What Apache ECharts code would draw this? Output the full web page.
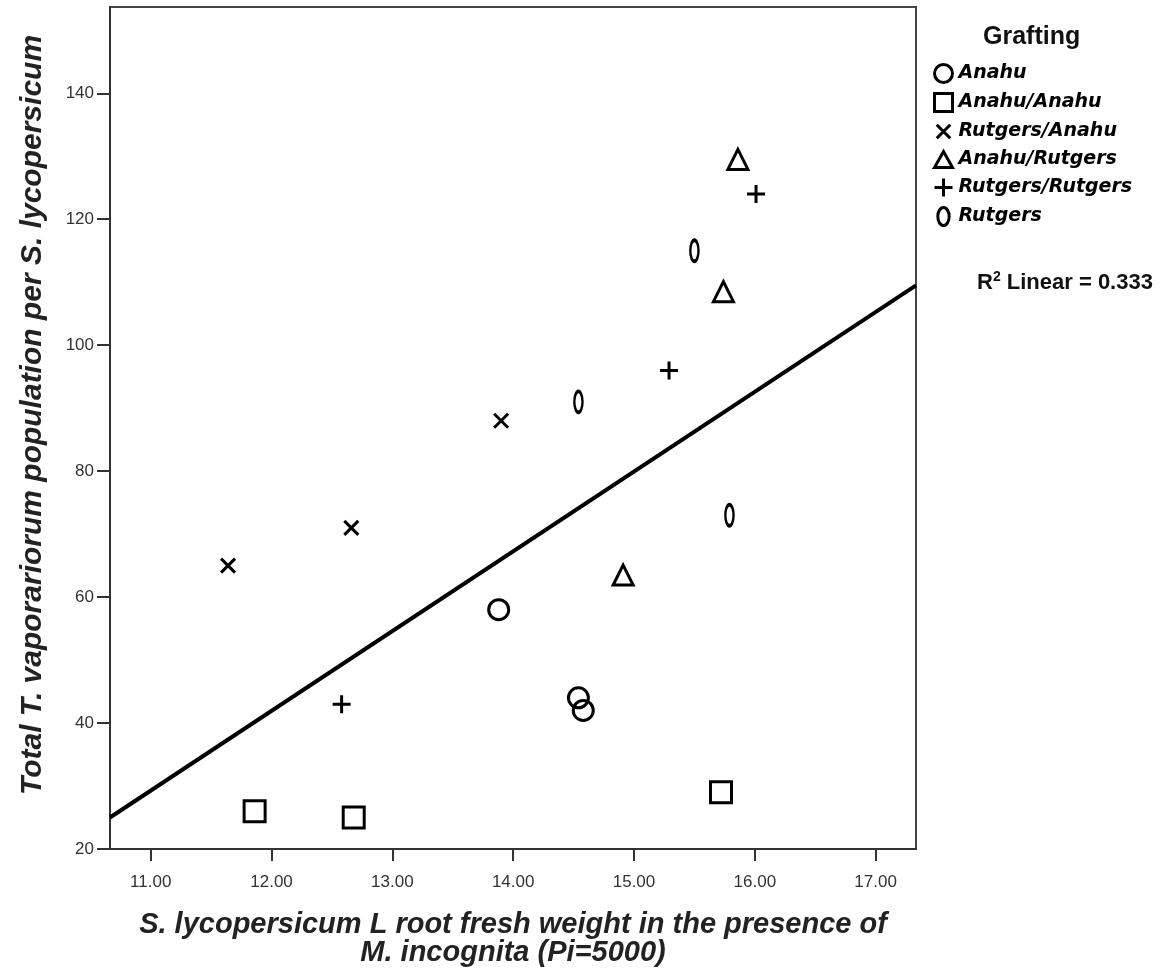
<!DOCTYPE html>
<html>
<head>
<meta charset="utf-8">
<script src="https://cdn.jsdelivr.net/npm/echarts@6/dist/echarts.min.js"></script>
<style>
html,body{margin:0;padding:0;background:#fff;}
#chart{width:1172px;height:973px;}
</style>
</head>
<body>
<div id="chart"></div>
<script>
// ---- data ----
const groupNames = ['Anahu', 'Anahu/Anahu', 'Rutgers/Anahu', 'Anahu/Rutgers', 'Rutgers/Rutgers', 'Rutgers'];
const anahu          = [[13.88, 58], [14.54, 44], [14.58, 42]];
const anahuAnahu     = [[11.86, 26], [12.68, 25], [15.72, 29]];
const rutgersAnahu   = [[11.64, 65], [12.66, 71], [13.90, 88]];
const anahuRutgers   = [[15.86, 129.5], [15.74, 108.5], [14.91, 63.5]];
const rutgersRutgers = [[16.01, 124], [15.29, 96], [12.58, 43]];
const rutgers        = [[15.50, 115], [14.54, 91], [15.79, 73]];
const fitLine        = [[10.663, 25.0], [17.334, 109.5]];
const xTicks = [11, 12, 13, 14, 15, 16, 17];
const yTicks = [20, 40, 60, 80, 100, 120, 140];
const r2Text = '0.333';

// ---- styling ----
const groupData = [anahu, anahuAnahu, rutgersAnahu, anahuRutgers, rutgersRutgers, rutgers];
const ellipsePath = 'path://M6,0A6,9.5,0,1,1,6,19A6,9.5,0,1,1,6,0Z';
const symbols = [
  'circle',
  'rect',
  'path://M0,0L12,12M12,0L0,12',
  'triangle',
  'path://M8,0L8,16M0,8L16,8',
  ellipsePath
];
const symbolSizes = [20, 21, 14, 20, 18, [13, 21]];
const legendIcons = [
  'circle',
  'rect',
  'path://M-2,-2M14,14M0,0L12,12M12,0L0,12',
  'path://M0,16L9,0L18,16Z',
  'path://M8,0L8,16M0,8L16,8',
  ellipsePath
];

const scatterSeries = groupNames.map((name, i) => ({
  name: name,
  type: 'scatter',
  data: groupData[i],
  symbol: symbols[i],
  symbolSize: symbolSizes[i],
  symbolKeepAspect: true,
  itemStyle: { color: 'rgba(255,255,255,0)', borderColor: '#000', borderWidth: 3, opacity: 1 },
  emphasis: { disabled: true },
  z: 3
}));

const nameFont = '"Liberation Sans", Arial, sans-serif';
const chart = echarts.init(document.getElementById('chart'), null, { renderer: 'canvas' });
chart.setOption({
  animation: false,
  backgroundColor: '#fff',
  grid: { left: 110, right: 256, top: 7, bottom: 124, show: true, borderColor: '#444', borderWidth: 2 },
  xAxis: {
    type: 'value', min: 10.663, max: 17.334,
    splitLine: { show: false },
    axisLine: { onZero: false, lineStyle: { color: '#333', width: 2 } },
    axisTick: { customValues: xTicks, length: 12, lineStyle: { color: '#333', width: 2 } },
    axisLabel: { customValues: xTicks, formatter: v => v.toFixed(2), color: '#333', fontSize: 17, fontFamily: nameFont, margin: 25 },
    name: 'S. lycopersicum L root fresh weight in the presence of\nM. incognita (Pi=5000)',
    nameLocation: 'middle', nameGap: 62,
    nameTextStyle: { fontSize: 29, fontWeight: 'bold', fontStyle: 'italic', color: '#222', fontFamily: nameFont, lineHeight: 28 }
  },
  yAxis: {
    type: 'value', min: 20, max: 153.7,
    splitLine: { show: false },
    axisLine: { onZero: false, lineStyle: { color: '#333', width: 2 } },
    axisTick: { customValues: yTicks, length: 13, lineStyle: { color: '#333', width: 2 } },
    axisLabel: { customValues: yTicks, color: '#333', fontSize: 17, fontFamily: nameFont, margin: 16 },
    name: 'Total T. vaporariorum population per S. lycopersicum',
    nameLocation: 'middle', nameGap: 62,
    nameTextStyle: { fontSize: 30, fontWeight: 'bold', fontStyle: 'italic', color: '#222', fontFamily: nameFont, padding: [0, 0, 0, 26] }
  },
  legend: {
    orient: 'vertical', left: 928, top: 58,
    itemWidth: 18, itemHeight: 18, itemGap: 8,
    data: groupNames.map((n, i) => ({ name: n, icon: legendIcons[i] })),
    textStyle: { fontSize: 19, fontWeight: 'bold', fontStyle: 'italic', color: '#000', fontFamily: 'DejaVu Sans', padding: [0, 0, 0, 1] },
    itemStyle: { borderWidth: 3, borderColor: '#000', color: 'rgba(255,255,255,0)' },
    selectedMode: false
  },
  graphic: [
    { type: 'text', left: 983, top: 25, style: { text: 'Grafting', font: 'bold 25px "Liberation Sans", Arial', fill: '#111' } },
    { type: 'text', left: 977, top: 270, style: {
        text: '{b|R}{s|2}{b| Linear = ' + r2Text + '}',
        rich: {
          b: { font: 'bold 22px "Liberation Sans", Arial', fill: '#111', verticalAlign: 'bottom' },
          s: { font: 'bold 14px "Liberation Sans", Arial', fill: '#111', verticalAlign: 'top', padding: [0, 0, 10, 0] }
        } } }
  ],
  series: scatterSeries.concat([{
    name: 'fit', type: 'line', data: fitLine, symbol: 'none',
    lineStyle: { color: '#000', width: 4 }, emphasis: { disabled: true }, z: 2
  }])
});
</script>
</body>
</html>
